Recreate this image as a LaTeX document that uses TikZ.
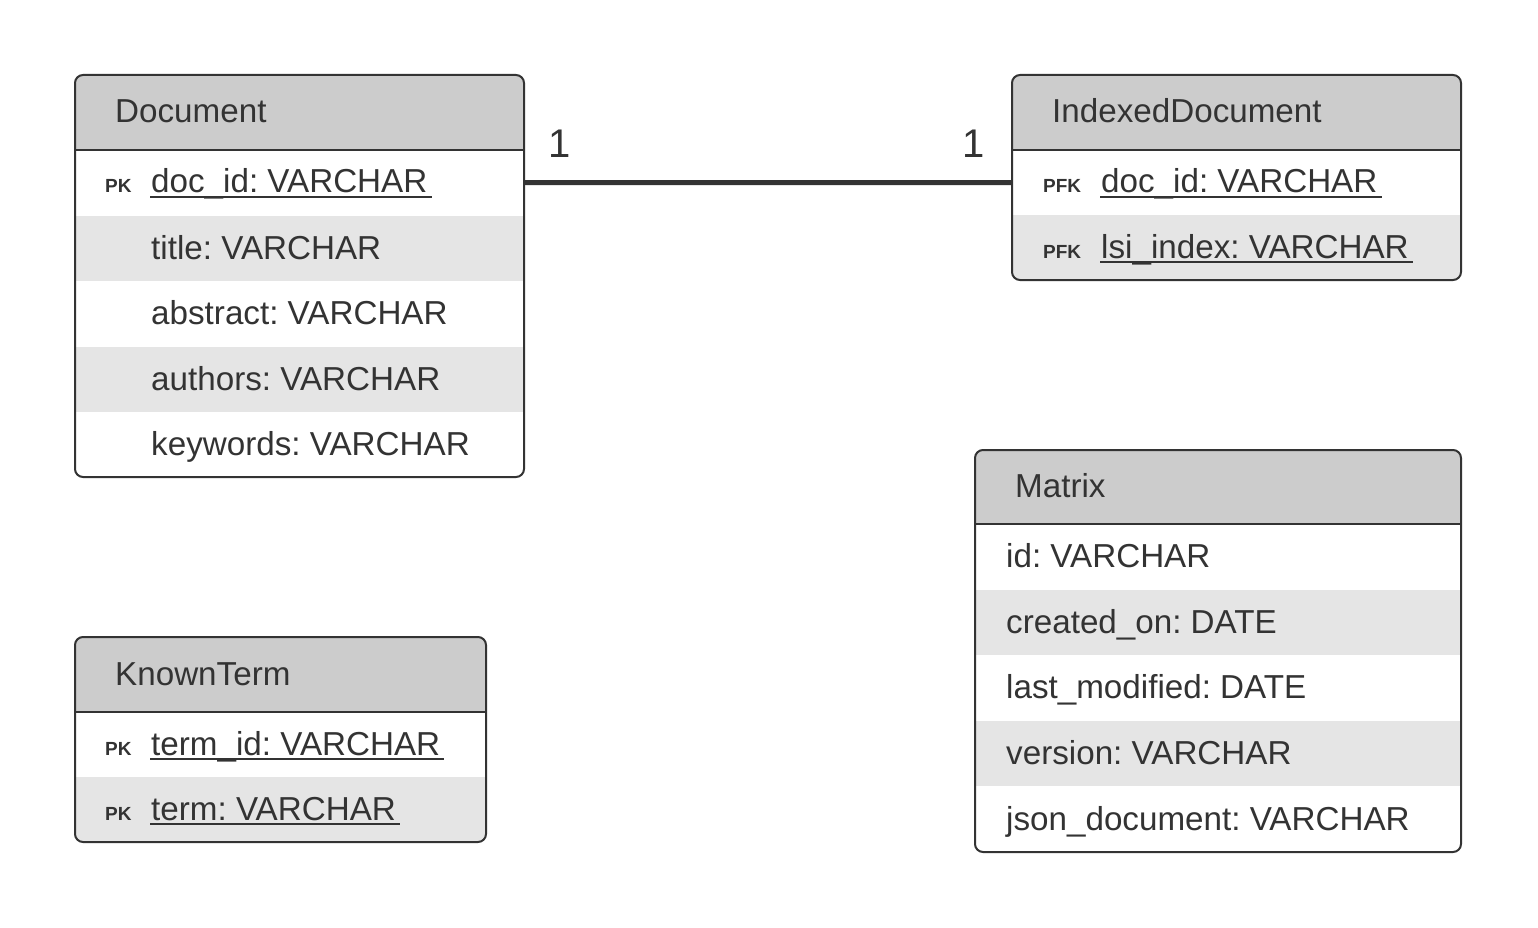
\documentclass[tikz,border=0pt]{standalone}
\usepackage{fontspec}
\setmainfont{Liberation Sans}
\usetikzlibrary{calc}
\frenchspacing
\definecolor{ink}{HTML}{333333}
\definecolor{hdr}{HTML}{CCCCCC}
\definecolor{alt}{HTML}{E5E5E5}
\tikzset{
  rowbox/.style={inner sep=0pt, outer sep=0pt, anchor=north west, draw=none, minimum height=65.5pt},
  fieldtxt/.style={inner sep=0pt, anchor=base west, text=ink, font=\fontsize{33.2}{40}\selectfont\frenchspacing},
  keytxt/.style={inner sep=0pt, anchor=base west, text=ink, font=\fontsize{19}{23}\selectfont\bfseries},
  ulline/.style={draw=ink, line width=2pt},
  border/.style={draw=ink, line width=2pt, rounded corners=8pt},
  sepline/.style={draw=ink, line width=2pt},
  conn/.style={draw=ink, line width=5pt},
  card/.style={inner sep=0pt, text=ink, font=\fontsize{40}{48}\selectfont},
}
\newcommand{\ulfield}[1]{\draw[ulline] ($(#1.base west)+(-1,3.5)$) -- ($(#1.base east)+(4,3.5)$);}
\begin{document}
\begin{tikzpicture}[x=1pt,y=-1pt]
\useasboundingbox (0,0) rectangle (1538,928);

% ---------------- Document ----------------
\begin{scope}
\clip[rounded corners=8pt] (75,75) rectangle (524,477);
\node[rowbox, fill=hdr, minimum width=449pt, minimum height=75pt] (docH) at (75,75) {};
\node[rowbox, fill=white, minimum width=449pt] (doc1) at (75,150) {};
\node[rowbox, fill=alt, minimum width=449pt] (doc2) at (75,215.5) {};
\node[rowbox, fill=white, minimum width=449pt] (doc3) at (75,281) {};
\node[rowbox, fill=alt, minimum width=449pt] (doc4) at (75,346.5) {};
\node[rowbox, fill=white, minimum width=449pt, minimum height=66pt] (doc5) at (75,412) {};
\end{scope}
\draw[border] (75,75) rectangle (524,477);
\draw[sepline] (docH.south west) -- (docH.south east);
\node[fieldtxt] (docT) at (115,123) {Document};
\node[keytxt] (docK1) at (105,193) {PK};
\node[fieldtxt] (docF1) at (151,193) {doc\_id: VARCHAR};
\ulfield{docF1}
\node[fieldtxt] (docF2) at (151,259) {title: VARCHAR};
\node[fieldtxt] (docF3) at (151,324) {abstract: VARCHAR};
\node[fieldtxt] (docF4) at (151,390) {authors: VARCHAR};
\node[fieldtxt] (docF5) at (151,455) {keywords: VARCHAR};

% ---------------- IndexedDocument ----------------
\begin{scope}
\clip[rounded corners=8pt] (1012,75) rectangle (1461,280);
\node[rowbox, fill=hdr, minimum width=449pt, minimum height=75pt] (idxH) at (1012,75) {};
\node[rowbox, fill=white, minimum width=449pt, minimum height=65pt] (idx1) at (1012,150) {};
\node[rowbox, fill=alt, minimum width=449pt, minimum height=65pt] (idx2) at (1012,215) {};
\end{scope}
\draw[border] (1012,75) rectangle (1461,280);
\draw[sepline] (idxH.south west) -- (idxH.south east);
\node[fieldtxt] (idxT) at (1052,123) {IndexedDocument};
\node[keytxt] (idxK1) at (1043,193) {PFK};
\node[fieldtxt] (idxF1) at (1101,193) {doc\_id: VARCHAR};
\ulfield{idxF1}
\node[keytxt] (idxK2) at (1043,258) {PFK};
\node[fieldtxt] (idxF2) at (1101,258) {lsi\_index: VARCHAR};
\ulfield{idxF2}

% ---------------- KnownTerm ----------------
\begin{scope}
\clip[rounded corners=8pt] (75,637) rectangle (486,842);
\node[rowbox, fill=hdr, minimum width=411pt, minimum height=75pt] (ktH) at (75,637) {};
\node[rowbox, fill=white, minimum width=411pt, minimum height=65pt] (kt1) at (75,712) {};
\node[rowbox, fill=alt, minimum width=411pt, minimum height=65pt] (kt2) at (75,777) {};
\end{scope}
\draw[border] (75,637) rectangle (486,842);
\draw[sepline] (ktH.south west) -- (ktH.south east);
\node[fieldtxt] (ktT) at (115,685) {KnownTerm};
\node[keytxt] (ktK1) at (105,755) {PK};
\node[fieldtxt] (ktF1) at (151,755) {term\_id: VARCHAR};
\ulfield{ktF1}
\node[keytxt] (ktK2) at (105,820) {PK};
\node[fieldtxt] (ktF2) at (151,820) {term: VARCHAR};
\ulfield{ktF2}

% ---------------- Matrix ----------------
\begin{scope}
\clip[rounded corners=8pt] (975,450) rectangle (1461,852);
\node[rowbox, fill=hdr, minimum width=486pt, minimum height=74pt] (mxH) at (975,450) {};
\node[rowbox, fill=white, minimum width=486pt, minimum height=65.6pt] (mx1) at (975,524) {};
\node[rowbox, fill=alt, minimum width=486pt, minimum height=65.6pt] (mx2) at (975,589.6) {};
\node[rowbox, fill=white, minimum width=486pt, minimum height=65.6pt] (mx3) at (975,655.2) {};
\node[rowbox, fill=alt, minimum width=486pt, minimum height=65.6pt] (mx4) at (975,720.8) {};
\node[rowbox, fill=white, minimum width=486pt, minimum height=66pt] (mx5) at (975,786.4) {};
\end{scope}
\draw[border] (975,450) rectangle (1461,852);
\draw[sepline] (mxH.south west) -- (mxH.south east);
\node[fieldtxt] (mxT) at (1015,497.5) {Matrix};
\node[fieldtxt] (mxF1) at (1006,567) {id: VARCHAR};
\node[fieldtxt] (mxF2) at (1006,633) {created\_on: DATE};
\node[fieldtxt] (mxF3) at (1006,698.5) {last\_modified: DATE};
\node[fieldtxt] (mxF4) at (1006,764) {version: VARCHAR};
\node[fieldtxt] (mxF5) at (1006,830) {json\_document: VARCHAR};

% ---------------- Relationship ----------------
\draw[conn] (doc1.east) -- (idx1.west);
\node[card] (c1) at (560,144) {1};
\node[card] (c2) at (974,144) {1};
\end{tikzpicture}
\end{document}
